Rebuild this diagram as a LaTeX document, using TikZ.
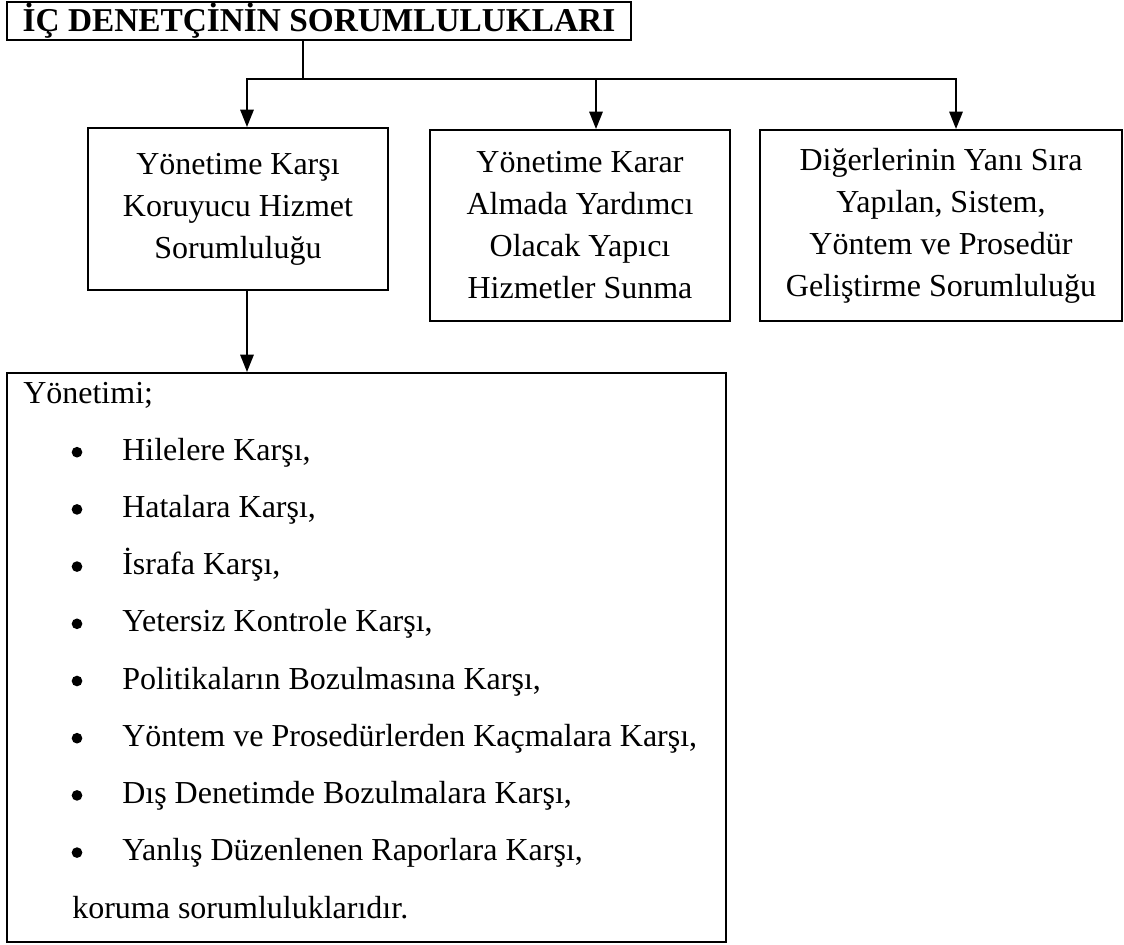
\documentclass[tikz,border=0pt]{standalone}
\usepackage{fontspec}
\setmainfont{Liberation Serif}
\usetikzlibrary{arrows.meta}

\begin{document}
\begin{tikzpicture}[x=0.75pt,y=-0.75pt,
  every node/.style={font=\fontsize{24}{31.5}\selectfont},
  kutu/.style={draw=black,line width=1.5pt,align=center,inner sep=0pt},
  yazi/.style={anchor=base west,inner sep=0pt},
  nokta/.style={circle,fill=black,inner sep=0pt,minimum size=8pt},
  ok/.style={-{Triangle[length=13pt,width=10pt]},line width=1.5pt},
  cizgi/.style={line width=1.5pt}]
  \useasboundingbox (0,0) rectangle (1124,945);

  % Başlık
  \node[kutu,minimum width=468pt,minimum height=28.5pt,font=\fontsize{25}{30}\selectfont\bfseries] (baslik) at (319,21) {İÇ DENETÇİNİN SORUMLULUKLARI};

  % Sorumluluk kutuları
  \node[kutu,minimum width=225pt,minimum height=121.5pt] (k1) at (238,209) {Yönetime Karşı\\Koruyucu Hizmet\\Sorumluluğu};
  \node[kutu,minimum width=225pt,minimum height=143.25pt] (k2) at (580,225.5) {Yönetime Karar\\Almada Yardımcı\\Olacak Yapıcı\\Hizmetler Sunma};
  \node[kutu,minimum width=271.5pt,minimum height=143.25pt] (k3) at (941,225.5) {Diğerlerinin Yanı Sıra\\Yapılan, Sistem,\\Yöntem ve Prosedür\\Geliştirme Sorumluluğu};

  % Liste kutusu
  \node[kutu,minimum width=539.25pt,minimum height=426.75pt] (liste) at (366.5,657.5) {};
  \node[yazi] (giris) at (23,403) {Yönetimi;};
  \foreach \i/\metin in {1/{Hilelere Karşı,},2/{Hatalara Karşı,},3/{İsrafa Karşı,},
      4/{Yetersiz Kontrole Karşı,},5/{Politikaların Bozulmasına Karşı,},
      6/{Yöntem ve Prosedürlerden Kaçmalara Karşı,},7/{Dış Denetimde Bozulmalara Karşı,},
      8/{Yanlış Düzenlenen Raporlara Karşı,}} {
    \node[nokta] (isaret\i) at (77,{395+57.2*\i}) {};
    \node[yazi] (madde\i) at (122,{403+57.2*\i}) {\metin};
  }
  \node[yazi] (sonuc) at (72,918) {koruma sorumluluklarıdır.};

  % Oklar
  \coordinate (ayrim) at (303,79);
  \coordinate (sol) at (247,79);
  \coordinate (orta) at (596,79);
  \coordinate (sag) at (956,79);
  \draw[cizgi] (baslik.south -| ayrim) -- (ayrim);
  \draw[ok] (ayrim) -| (sol |- k1.north);
  \draw[ok] (ayrim) -| (sag |- k3.north);
  \draw[ok] (orta) -- (orta |- k2.north);
  \draw[ok] (sol |- k1.south) -- (sol |- liste.north);
\end{tikzpicture}
\end{document}
